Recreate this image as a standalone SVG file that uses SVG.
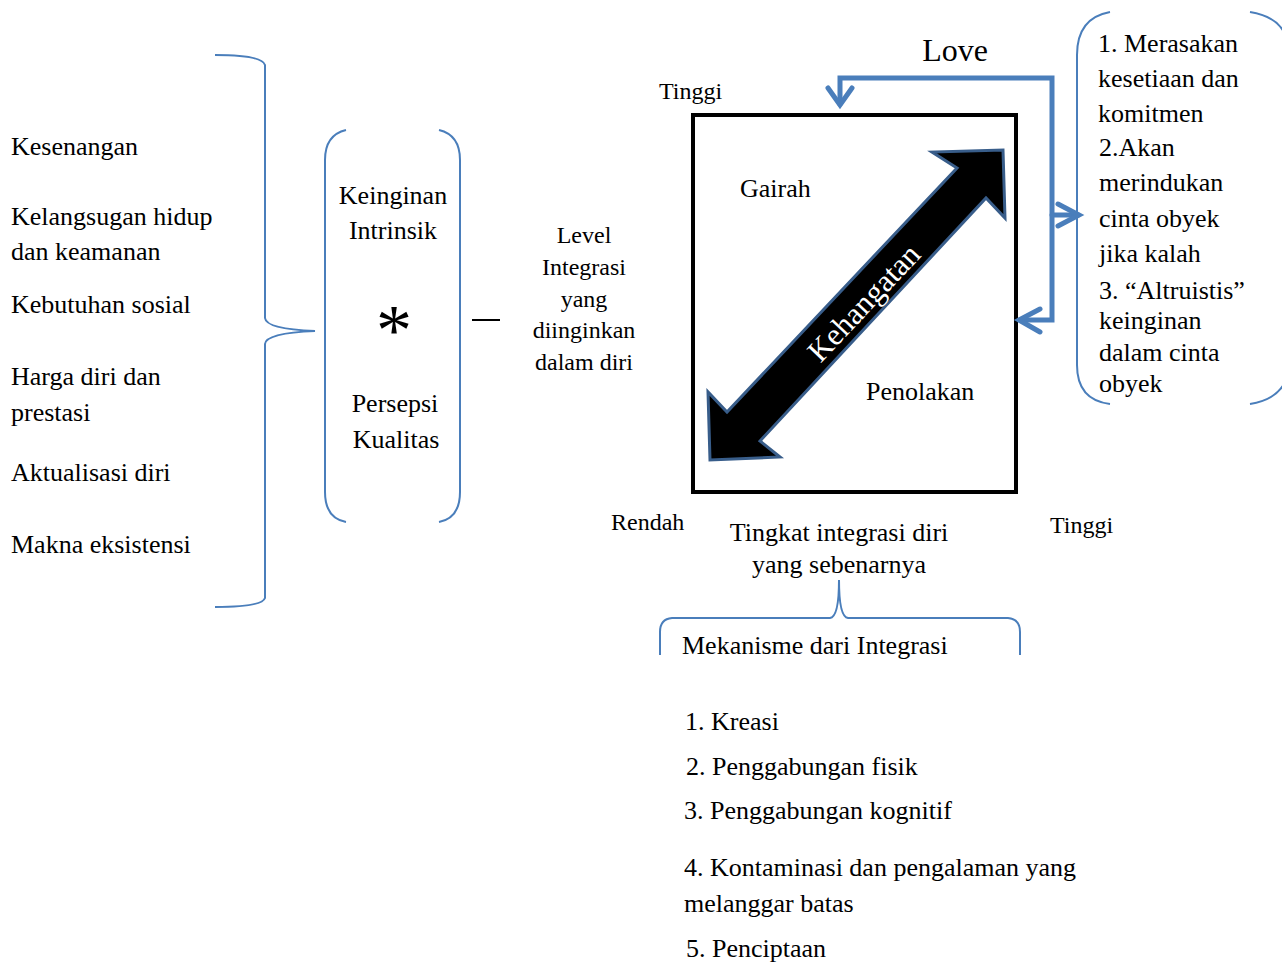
<svg xmlns="http://www.w3.org/2000/svg" width="1282" height="963" viewBox="0 0 1282 963" font-family="'Liberation Serif', 'DejaVu Serif', serif">
<style>
text{font-family:'Liberation Serif','DejaVu Serif',serif;fill:#000;}
.t26{font-size:26px;}
.t24{font-size:24px;}
.mid{text-anchor:middle;}
.br{fill:none;stroke:#4a7ebb;stroke-width:2;}
.con{fill:none;stroke:#4a7ebb;stroke-width:5;stroke-linecap:round;stroke-linejoin:miter;}
</style>
<rect width="1282" height="963" fill="#fff"/>

<g id="left-list" class="t26">
<text x="11" y="155">Kesenangan</text>
<text x="11" y="225">Kelangsugan hidup</text>
<text x="11" y="260">dan keamanan</text>
<text x="11" y="313">Kebutuhan sosial</text>
<text x="11" y="385">Harga diri dan</text>
<text x="11" y="421">prestasi</text>
<text x="11" y="481">Aktualisasi diri</text>
<text x="11" y="553">Makna eksistensi</text>
</g>

<g id="left-brace">
<path class="br" d="M215,55 Q262,55 265,65 L265,318 Q266,329 315,331 Q266,333 265,344 L265,598 Q262,607 215,607"/>
</g>

<g id="middle-group">
<path class="br" d="M346,130 Q325,135 325,160 L325,492 Q325,518 346,522"/>
<path class="br" d="M439,130 Q460,135 460,160 L460,492 Q460,518 439,522"/>
<text class="t26 mid" x="393" y="204">Keinginan</text>
<text class="t26 mid" x="393" y="239">Intrinsik</text>
<text class="mid" x="394" y="354" style="font-size:72px">*</text>
<text class="t26 mid" x="395" y="412">Persepsi</text>
<text class="t26 mid" x="396" y="448">Kualitas</text>
</g>

<g id="dash">
<line x1="472" y1="320" x2="500" y2="320" stroke="#000" stroke-width="2"/>
</g>

<g id="level" class="t24">
<text class="mid" x="584" y="243">Level</text>
<text class="mid" x="584" y="275">Integrasi</text>
<text class="mid" x="584" y="307">yang</text>
<text class="mid" x="584" y="338">diinginkan</text>
<text class="mid" x="584" y="370">dalam diri</text>
</g>

<g id="box">
<rect x="693" y="115" width="323" height="377" fill="#fff" stroke="#000" stroke-width="4"/>
<text class="t26" x="740" y="197">Gairah</text>
<text class="t26" x="866" y="400">Penolakan</text>
</g>

<g id="warmth-arrow">
<polygon points="1003,150 1005,218 986,198 760,441 780,457 710,460 708,392 727,412 957,168 932,152" fill="#000" stroke="#385d8a" stroke-width="3" stroke-linejoin="miter"/>
<text transform="translate(864,303) rotate(-46.7)" x="0" y="10" class="mid" style="font-size:31px;fill:#fff">Kehangatan</text>
</g>

<g id="axis-labels" class="t24">
<text x="659" y="99">Tinggi</text>
<text x="611" y="530">Rendah</text>
<text x="1050" y="533">Tinggi</text>
<text class="t26 mid" x="839" y="541">Tingkat integrasi diri</text>
<text class="t26 mid" x="839" y="573">yang sebenarnya</text>
</g>

<g id="love-label">
<text class="mid" x="955" y="61" style="font-size:32px">Love</text>
</g>

<g id="connectors">
<path class="con" d="M840,104 L840,78 L1052,78 L1052,320 L1020,320"/>
<path class="con" d="M828,88 L840,105 L852,88"/>
<path class="con" d="M1040,309 L1019,320 L1040,332"/>
<path class="con" d="M1052,215 L1078,215"/>
<path class="con" d="M1058,204 L1079,215 L1058,226"/>
</g>

<g id="love-features">
<path class="br" d="M1110,12 Q1077,18 1077,55 L1077,365 Q1077,400 1110,404"/>
<path class="br" d="M1250,12 Q1275,16 1284,32"/>
<path class="br" d="M1250,404 Q1275,400 1284,384"/>
<text class="t26" x="1098" y="52">1. Merasakan</text>
<text class="t26" x="1098" y="87">kesetiaan dan</text>
<text class="t26" x="1098" y="122">komitmen</text>
<text class="t26" x="1099" y="156">2.Akan</text>
<text class="t26" x="1099" y="191">merindukan</text>
<text class="t26" x="1099" y="227">cinta obyek</text>
<text class="t26" x="1099" y="262">jika kalah</text>
<text class="t26" x="1099" y="299">3. “Altruistis”</text>
<text class="t26" x="1099" y="329">keinginan</text>
<text class="t26" x="1099" y="361">dalam cinta</text>
<text class="t26" x="1099" y="392">obyek</text>
</g>

<g id="mechanism">
<path class="br" d="M839,580 Q839,617 830,618 L672,618 Q660,619 660,632 L660,655"/>
<path class="br" d="M839,580 Q839,617 848,618 L1008,618 Q1020,619 1020,632 L1020,655"/>
<text class="t26" x="682" y="654">Mekanisme dari Integrasi</text>
<text class="t26" x="685" y="730">1. Kreasi</text>
<text class="t26" x="686" y="775">2. Penggabungan fisik</text>
<text class="t26" x="684" y="819">3. Penggabungan kognitif</text>
<text class="t26" x="684" y="876">4. Kontaminasi dan pengalaman yang</text>
<text class="t26" x="684" y="912">melanggar batas</text>
<text class="t26" x="686" y="957">5. Penciptaan</text>
</g>
</svg>
